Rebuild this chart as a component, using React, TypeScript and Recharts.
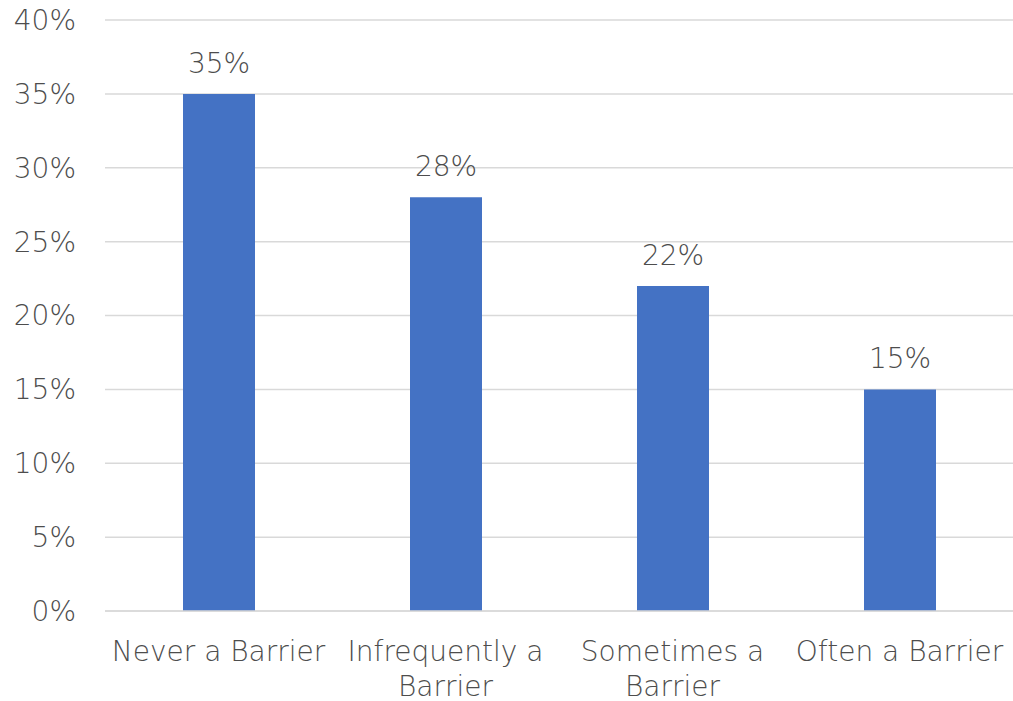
import React from "react";
import { BarChart, Bar, XAxis, YAxis, CartesianGrid, LabelList } from "recharts";

// Share of respondents by how often the issue is a barrier
const categories = ["Never a Barrier", "Infrequently a Barrier", "Sometimes a Barrier", "Often a Barrier"];
const categoryLines = [["Never a Barrier"], ["Infrequently a", "Barrier"], ["Sometimes a", "Barrier"], ["Often a Barrier"]];
const shares = [35, 28, 22, 15];
const yTicks = [0, 5, 10, 15, 20, 25, 30, 35, 40];

const data = categories.map((name, i) => ({ name, value: shares[i] }));

const FONT = "'DejaVu Sans', sans-serif";
const WEIGHT = 300;
const TEXT = "#4d4d4d";
const SIZE = 28;

const CategoryTick = (props: any) => {
  const { x, y, payload, index } = props;
  const lines = categoryLines[index] ?? [payload.value];
  return (
    <text x={x} y={y} textAnchor="middle" fill={TEXT} fontSize={SIZE} fontFamily={FONT} fontWeight={WEIGHT}>
      {lines.map((line: string, i: number) => (
        <tspan key={i} x={x} dy={i === 0 ? 42 : 35}>
          {line}
        </tspan>
      ))}
    </text>
  );
};

export default function App() {
  return (
    <div style={{ position: "absolute", left: 0, top: 0, width: 1013, height: 701, background: "#fff" }}>
      <BarChart width={1013} height={701} data={data} margin={{ top: 20, right: 0, bottom: 0, left: 0 }}>
        <CartesianGrid vertical={false} stroke="#d9d9d9" strokeWidth={1.5} />
        <XAxis
          dataKey="name"
          height={90}
          axisLine={{ stroke: "#d9d9d9", strokeWidth: 1.5 }}
          tickLine={false}
          interval={0}
          tick={<CategoryTick />}
        />
        <YAxis
          width={105}
          domain={[0, 40]}
          ticks={yTicks}
          interval={0}
          axisLine={false}
          tickLine={false}
          tickSize={0}
          tickMargin={29}
          tickFormatter={(v: number) => `${v}%`}
          tick={{ fill: TEXT, fontSize: SIZE, fontFamily: FONT, fontWeight: WEIGHT }}
        />
        <Bar dataKey="value" fill="#4472C4" barSize={72} isAnimationActive={false}>
          <LabelList
            dataKey="value"
            position="top"
            offset={21}
            formatter={(v: number) => `${v}%`}
            fill={TEXT}
            fontSize={SIZE}
            fontFamily={FONT}
            fontWeight={WEIGHT}
          />
        </Bar>
      </BarChart>
    </div>
  );
}
